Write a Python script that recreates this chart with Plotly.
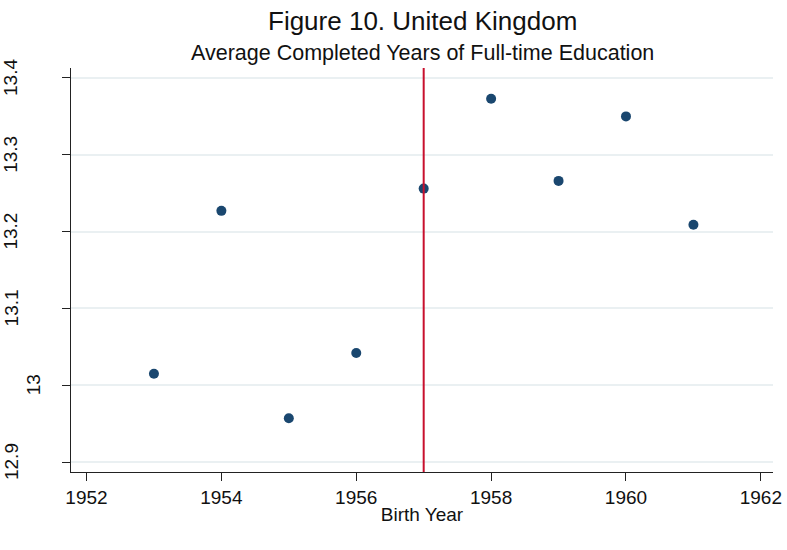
import plotly.graph_objects as go

years = [1953, 1954, 1955, 1956, 1957, 1958, 1959, 1960, 1961]
avg_years = [13.015, 13.227, 12.957, 13.042, 13.256, 13.373, 13.266, 13.350, 13.209]
cutoff_year = 1957
x_ticks = [1952, 1954, 1956, 1958, 1960, 1962]
y_ticks = [12.9, 13.0, 13.1, 13.2, 13.3, 13.4]
y_tick_labels = ["12.9", "13", "13.1", "13.2", "13.3", "13.4"]

FONT = "Liberation Sans, Arial, sans-serif"

fig = go.Figure()
fig.add_trace(go.Scatter(
    x=years, y=avg_years, mode="markers",
    marker=dict(color="#1a476f", size=10, line=dict(width=0)),
    showlegend=False, hoverinfo="x+y"))

fig.add_shape(type="line", xref="x", yref="paper", x0=cutoff_year, x1=cutoff_year,
              y0=0, y1=1, line=dict(color="#c8102e", width=2), layer="above")

annotations = [
    dict(text="Figure 10. United Kingdom", xref="paper", yref="paper", x=0.5, y=1,
         xanchor="center", yanchor="middle", yshift=47, showarrow=False,
         font=dict(family=FONT, size=26, color="#111111")),
    dict(text="Average Completed Years of Full-time Education", xref="paper", yref="paper",
         x=0.5, y=1, xanchor="center", yanchor="middle", yshift=15, showarrow=False,
         font=dict(family=FONT, size=21.5, color="#111111")),
]
for v, lab in zip(y_ticks, y_tick_labels):
    xs = -38 if lab == "13" else -60
    annotations.append(dict(text=lab, xref="paper", yref="y", x=0, y=v, xshift=xs,
                            textangle=-90, showarrow=False, xanchor="center", yanchor="middle",
                            font=dict(family=FONT, size=19, color="#111111")))

fig.update_layout(
    width=787, height=550,
    margin=dict(l=71, r=14, t=68, b=78, autoexpand=False),
    paper_bgcolor="white", plot_bgcolor="white",
    annotations=annotations,
    xaxis=dict(range=[1951.77, 1962.18], tickvals=x_ticks, ticks="outside", ticklen=8,
               tickcolor="#222222", showline=True, linecolor="#222222", linewidth=1.2,
               showgrid=False, zeroline=False, automargin=False,
               tickfont=dict(family=FONT, size=19, color="#111111"),
               title=dict(text="Birth Year", standoff=0,
                          font=dict(family=FONT, size=19, color="#111111"))),
    yaxis=dict(range=[12.887, 13.413], tickvals=y_ticks, ticks="outside", ticklen=8,
               tickcolor="#222222", showline=True, linecolor="#222222", linewidth=1.2,
               showgrid=True, gridcolor="#eaf0f2", gridwidth=1.5, zeroline=False,
               showticklabels=False, automargin=False),
)

fig.write_html("out.html", config={"displayModeBar": False},
               post_script="document.body.style.margin='0';document.body.style.overflow='hidden';")
